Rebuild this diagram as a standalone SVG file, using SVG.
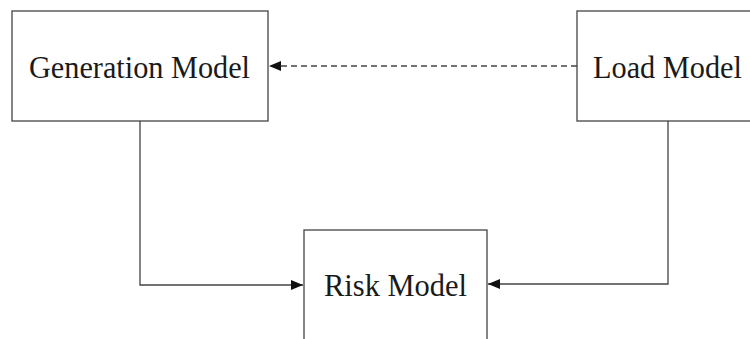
<svg xmlns="http://www.w3.org/2000/svg" width="750" height="339" viewBox="0 0 750 339">
<style>
.box{fill:#fff;stroke:#444;stroke-width:1.3}
.lbl{font-family:"Liberation Serif","Times New Roman",serif;font-size:31px;fill:#1a1a1a}
.con{fill:none;stroke:#444;stroke-width:1.3}
.dash{stroke-dasharray:6 4}
</style>
<defs>
<marker id="ah" viewBox="0 0 12 10" refX="12" refY="5" markerWidth="12" markerHeight="10" markerUnits="userSpaceOnUse" orient="auto">
<path d="M0,0 L12,5 L0,10 z" fill="#111"/>
</marker>
</defs>
<rect width="750" height="339" fill="#fff"/>
<g id="generation-model">
<rect class="box" x="12" y="11" width="256" height="110"/>
<text class="lbl" x="29" y="78" textLength="221" lengthAdjust="spacingAndGlyphs">Generation Model</text>
</g>
<g id="load-model">
<rect class="box" x="577" y="11" width="200" height="110"/>
<text class="lbl" x="593" y="78" textLength="149" lengthAdjust="spacingAndGlyphs">Load Model</text>
</g>
<g id="risk-model">
<rect class="box" x="304" y="230" width="183" height="130"/>
<text class="lbl" x="324" y="296" textLength="143" lengthAdjust="spacingAndGlyphs">Risk Model</text>
</g>
<g id="connectors">
<path class="con dash" d="M577,66 L269,66" marker-end="url(#ah)"/>
<path class="con" d="M140,121 L140,285 L303,285" marker-end="url(#ah)"/>
<path class="con" d="M668,121 L668,284 L488,284" marker-end="url(#ah)"/>
</g>
</svg>
